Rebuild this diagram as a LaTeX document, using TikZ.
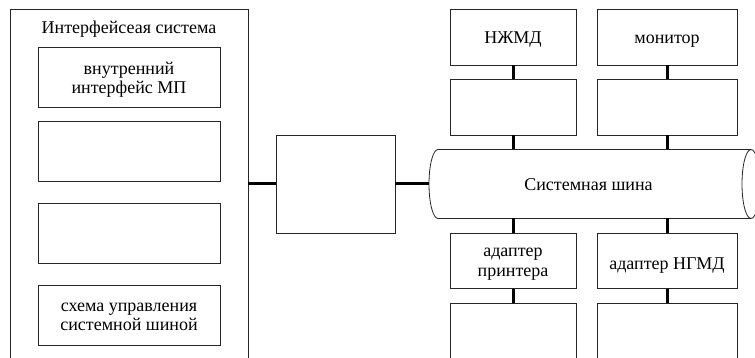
\documentclass[tikz,border=0pt]{standalone}
\usepackage{fontspec}
\setmainfont{Liberation Serif}
\begin{document}
\begin{tikzpicture}[x=1pt,y=-1pt,
  box/.style={draw=black!85,line width=0.8pt,inner sep=0pt},
  lbl/.style={inner sep=0pt,align=center,anchor=base,font=\fontsize{18}{19.5}\selectfont},
  thin/.style={draw=black!85,line width=0.8pt},
  thick/.style={draw=black,line width=3pt}]
\useasboundingbox (0,0) rectangle (755,358);
\begin{scope}
\clip (0,0) rectangle (755,358);
% outer interface system box (open at bottom)
\draw[thin] (10,370) -- (10,9.5) -- (248,9.5) -- (248,370);
\node[lbl] (title) at (129,33.3) {Интерфейсеая система};
\coordinate (outR) at (248,184);
% inner boxes
\node[box,minimum width=182pt,minimum height=60pt] (b1) at (129,77) {};
\node[box,minimum width=182pt,minimum height=60pt] (b2) at (129,151) {};
\node[box,minimum width=182pt,minimum height=60pt] (b3) at (129,233) {};
\node[box,minimum width=182pt,minimum height=60pt] (b4) at (129,315) {};
\node[lbl] (t1) at (129,94) {внутренний\\интерфейс МП};
\node[lbl] (t4) at (129,330.7) {схема управления\\системной шиной};
% middle box
\node[box,minimum width=119pt,minimum height=98pt] (mid) at (335.5,184) {};
% bus
\draw[thin] (751,149.5) -- (438,149.5) arc[start angle=270,end angle=90,x radius=9,y radius=34.5] -- (751,218.5);
\draw[thin] (751,184) ellipse[x radius=9,y radius=34.5];
\coordinate (busL) at (429,184);
\node[lbl] (bus) at (588.5,190.7) {Системная шина};
\coordinate (busT1) at (513,149.5);
\coordinate (busT2) at (667,149.5);
\coordinate (busB1) at (513,218.5);
\coordinate (busB2) at (667,218.5);
% right boxes
\node[box,minimum width=126pt,minimum height=56pt] (r11) at (513,37) {};
\node[box,minimum width=126pt,minimum height=56pt] (r12) at (513,107) {};
\node[box,minimum width=140pt,minimum height=56pt] (r21) at (667,37) {};
\node[box,minimum width=140pt,minimum height=56pt] (r22) at (667,107) {};
\node[box,minimum width=126pt,minimum height=55pt] (r13) at (513,260.8) {};
\node[box,minimum width=140pt,minimum height=55pt] (r23) at (667,260.8) {};
\node[lbl] (t11) at (513,43.3) {НЖМД};
\node[lbl] (t21) at (667,43.3) {монитор};
\node[lbl] (t13) at (513,276.3) {адаптер\\принтера};
\node[lbl] (t23) at (667,269.3) {адаптер НГМД};
\draw[thin] (450,370) -- (450,303) -- (576,303) -- (576,370);
\draw[thin] (597,370) -- (597,303) -- (737,303) -- (737,370);
\coordinate (r14) at (513,303);
\coordinate (r24) at (667,303);
% connectors
\draw[thick] (outR) -- (mid.west);
\draw[thick] (mid.east) -- (busL);
\draw[thick] (r11.south) -- (r12.north);
\draw[thick] (r21.south) -- (r22.north);
\draw[thick] (r12.south) -- (busT1);
\draw[thick] (r22.south) -- (busT2);
\draw[thick] (busB1) -- (r13.north);
\draw[thick] (busB2) -- (r23.north);
\draw[thick] (r13.south) -- (r14);
\draw[thick] (r23.south) -- (r24);
\end{scope}
\end{tikzpicture}
\end{document}
